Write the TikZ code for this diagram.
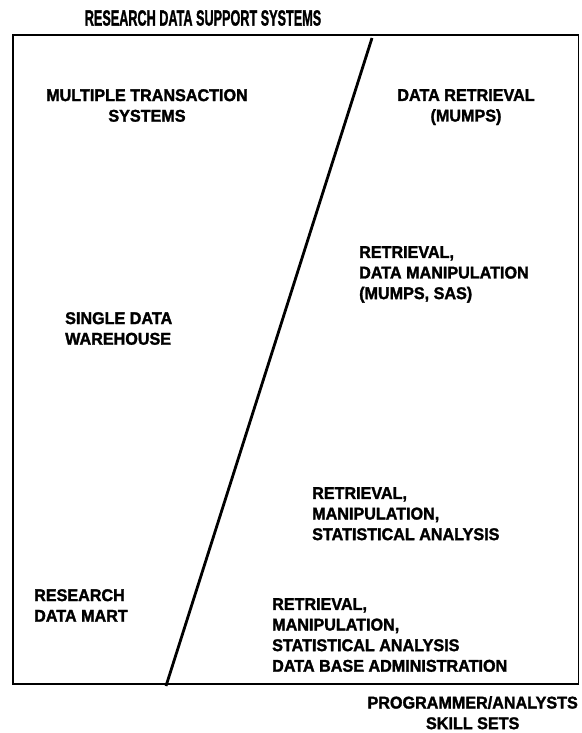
\documentclass[tikz,border=0pt]{standalone}
\usepackage{fontspec}
\setmainfont{Liberation Sans}
\newfontfamily\heavyfont[FakeBold=1.8]{Liberation Sans Bold}
\begin{document}
\begin{tikzpicture}[x=1pt,y=-1pt,
  lbl/.style={font=\heavyfont\fontsize{17}{20.6}\selectfont, inner sep=0pt, align=left, anchor=north west, xscale=0.95},
  clbl/.style={lbl, align=center, anchor=north},
  frame/.style={line width=2.6pt},
  divider/.style={line width=2.8pt}]
\useasboundingbox (0,0) rectangle (581,733);
% title above the frame
\node[inner sep=0pt, font=\heavyfont\fontsize{22}{24}\selectfont, xscale=0.575] (title) at (203,18) {RESEARCH DATA SUPPORT SYSTEMS};
% frame corners
\coordinate (tl) at (13,35);
\coordinate (tr) at (578.5,35);
\coordinate (br) at (578.5,684);
\coordinate (bl) at (13,684);
\draw[frame] (tr) -- (tl) -- (bl) -- (br);
\draw[line width=1.3pt] (tr) -- (br);
% diagonal divider
\coordinate (dtop) at (372,38);
\coordinate (dbot) at (166,686);
\draw[divider] (dtop) -- (dbot);
% left side labels
\node[clbl] (mts) at (147,89) {MULTIPLE TRANSACTION\\SYSTEMS};
\node[lbl] (sdw) at (65,312) {SINGLE DATA\\WAREHOUSE};
\node[lbl] (rdm) at (34,589) {RESEARCH\\DATA MART};
% right side labels
\node[clbl] (dr) at (466,89) {DATA RETRIEVAL\\(MUMPS)};
\node[lbl] (rdmn) at (359,246) {RETRIEVAL,\\DATA MANIPULATION\\(MUMPS, SAS)};
\node[lbl] (rms) at (312,487) {RETRIEVAL,\\MANIPULATION,\\STATISTICAL ANALYSIS};
\node[lbl] (rmsd) at (272,598) {RETRIEVAL,\\MANIPULATION,\\STATISTICAL ANALYSIS\\DATA BASE ADMINISTRATION};
% caption below the frame
\node[lbl, align=center, anchor=north east] (skills) at (578,696) {PROGRAMMER/ANALYSTS\\SKILL SETS};
\end{tikzpicture}
\end{document}
